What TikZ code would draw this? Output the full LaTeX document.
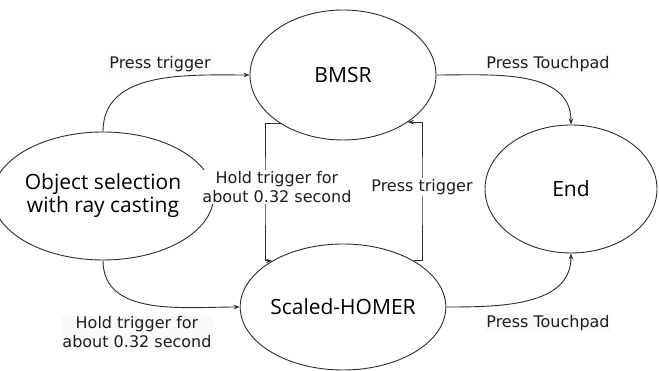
\documentclass[tikz,border=0pt]{standalone}
\usepackage{fontspec}
\setmainfont{DejaVu Sans}
\newfontfamily\nodefont{Open Sans}
\usetikzlibrary{shapes.geometric,arrows.meta}
\definecolor{linec}{RGB}{45,45,45}
\definecolor{labbg}{RGB}{249,250,251}
\tikzset{
  state/.style={ellipse,draw=linec,line width=0.9pt,inner sep=0pt,font=\nodefont\fontsize{21}{23}\selectfont,text=black,align=center},
  conn/.style={draw=linec,line width=0.9pt,-{Stealth[length=6pt,width=4.5pt]}},
  lab/.style={font=\fontsize{16}{19.5}\selectfont,text={rgb,255:red,30;green,30;blue,30},fill=labbg,inner sep=1.5pt,align=center}
}
\begin{document}
\begin{tikzpicture}[x=1pt,y=1pt]
\useasboundingbox[fill=white] (0,0) rectangle (659,371);
\node[state,minimum width=186pt,minimum height=130pt] (bmsr) at (343,296) {BMSR};
\node[state,minimum width=202pt,minimum height=128pt] (obj) at (103,175) {Object selection\\with ray casting};
\node[state,minimum width=184pt,minimum height=126pt] (homer) at (343,64) {Scaled-HOMER};
\node[state,minimum width=172pt,minimum height=128pt] (end) at (571,182) {End};
\coordinate (h1) at (265,180);
\coordinate (h2) at (422,180);
\draw[conn] (obj.north) to[out=90,in=180] (bmsr.west);
\draw[conn] (bmsr.east) to[out=0,in=90] (end.north);
\draw[conn] (obj.south) to[out=-90,in=180] (homer.west);
\draw[conn] (homer.east) to[out=0,in=-90] (end.south);
\draw[conn] (bmsr.218) -| (h1) |- (homer.147);
\draw[conn] (homer.33) -| (h2) |- (bmsr.-36);
\node[lab] (l1) at (160,307) {Press trigger};
\node[lab] (l2) at (548,307) {Press Touchpad};
\node[lab] (l3) at (137,39) {Hold trigger for\\about 0.32 second};
\node[lab] (l4) at (548,48) {Press Touchpad};
\node[lab,fill=white] (l5) at (277,184) {Hold trigger for\\about 0.32 second};
\node[lab,fill=white] (l6) at (422,184) {Press trigger};
\end{tikzpicture}
\end{document}
